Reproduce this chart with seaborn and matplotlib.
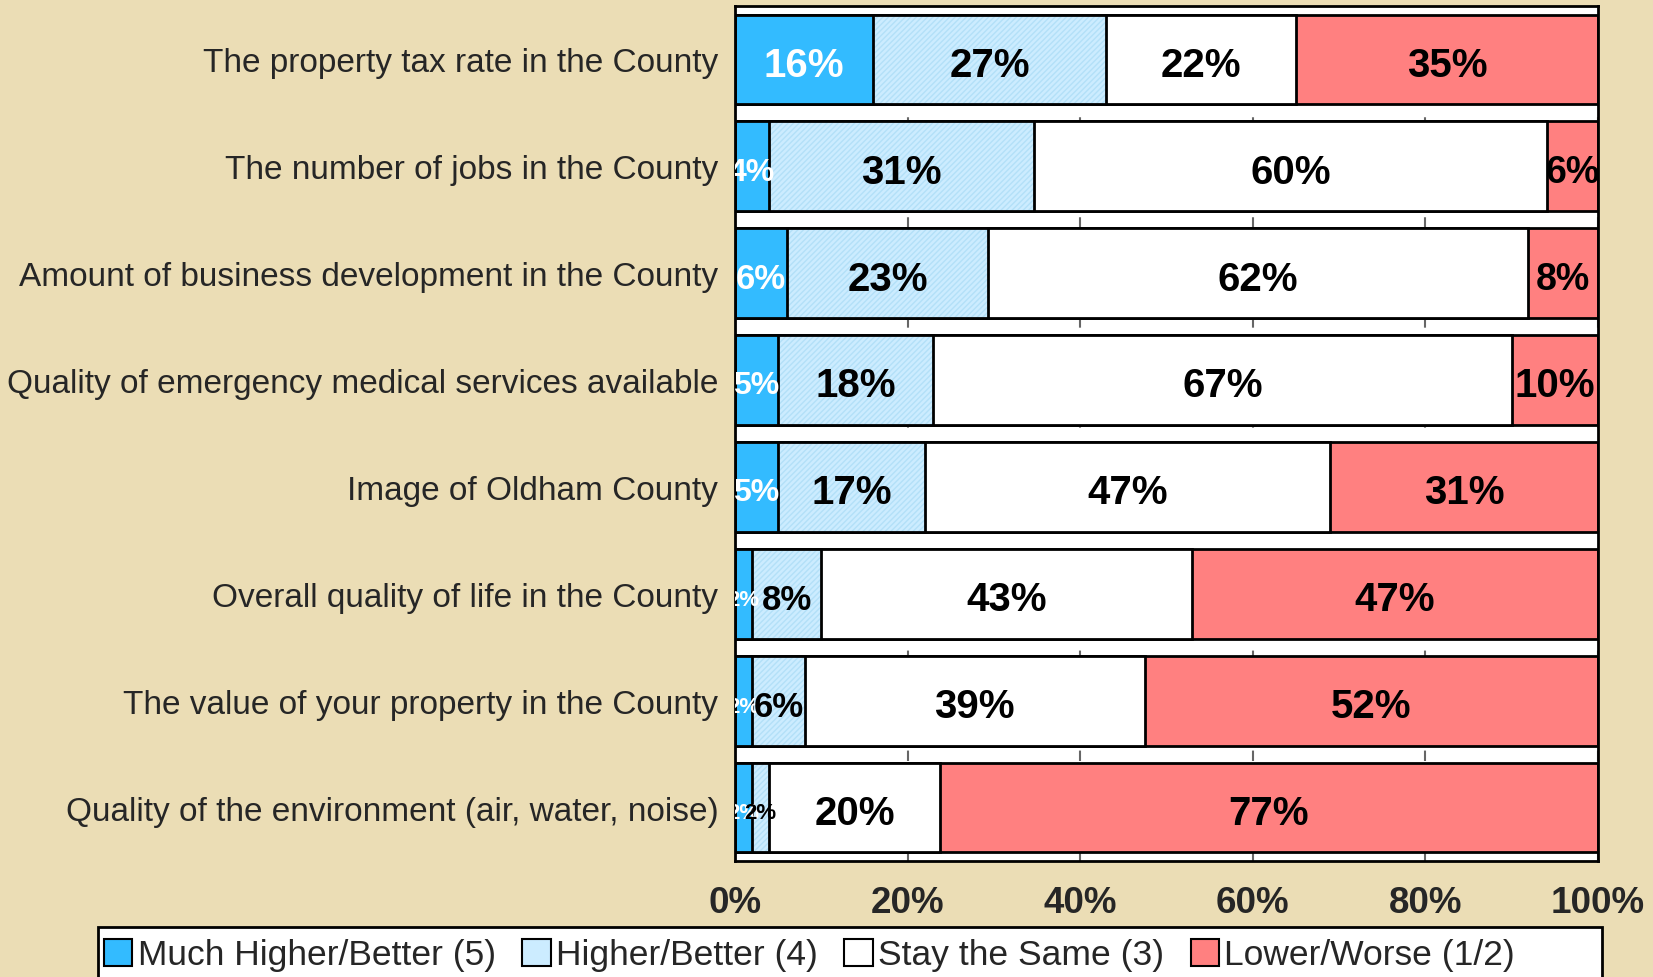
import pandas as pd
import seaborn as sns
import matplotlib.pyplot as plt
from matplotlib.patches import Patch, Rectangle

# survey items, top to bottom
items = [
    "The property tax rate in the County",
    "The number of jobs in the County",
    "Amount of business development in the County",
    "Quality of emergency medical services available",
    "Image of Oldham County",
    "Overall quality of life in the County",
    "The value of your property in the County",
    "Quality of the environment (air, water, noise)",
]
much_higher = [16, 4, 6, 5, 5, 2, 2, 2]
higher = [27, 31, 23, 18, 17, 8, 6, 2]
same = [22, 60, 62, 67, 47, 43, 39, 20]
lower = [35, 6, 8, 10, 31, 47, 52, 77]
series_names = ["Much Higher/Better (5)", "Higher/Better (4)", "Stay the Same (3)", "Lower/Worse (1/2)"]
x_ticks = [0, 20, 40, 60, 80, 100]
x_tick_labels = ["0%", "20%", "40%", "60%", "80%", "100%"]

colors = ["#33BBFF", "#CCECFF", "#FFFFFF", "#FF8080"]
label_colors = ["white", "black", "black", "black"]
bg = "#EBDDB5"

sns.set_style("white")
plt.rcParams["font.family"] = ["Liberation Sans", "DejaVu Sans"]

# 100% stacked: normalise each row to its total
df = pd.DataFrame({"item": items, "s0": much_higher, "s1": higher, "s2": same, "s3": lower})
cols = ["s0", "s1", "s2", "s3"]
tot = df[cols].sum(axis=1)
for c in cols:
    df["p" + c] = df[c] / tot * 100
df["c0"] = df["ps0"]
df["c1"] = df["c0"] + df["ps1"]
df["c2"] = df["c1"] + df["ps2"]
df["c3"] = df["c2"] + df["ps3"]

fig = plt.figure(figsize=(16.53, 9.78), dpi=100, facecolor=bg)
ax = fig.add_axes([0.4446, 0.1186, 0.5221, 0.8742])
ax.set_facecolor("white")

common = dict(y="item", orient="h", width=0.84, saturation=1, errorbar=None, ax=ax)
bar_kw = dict(edgecolor="black", linewidth=2, **common)
sns.barplot(data=df, x="c3", color=colors[3], **bar_kw)
sns.barplot(data=df, x="c2", color=colors[2], **bar_kw)
# light blue series: fill with a faint diagonal hatch, then a black outline
sns.barplot(data=df, x="c1", color=colors[1], edgecolor="#B3E0F8", linewidth=0,
            hatch="//////", **common)
sns.barplot(data=df, x="c1", color="black", fill=False, linewidth=2, **common)
sns.barplot(data=df, x="c0", color=colors[0], **bar_kw)


def label_size(v, k):
    if v >= 10:
        return 29
    if v >= 6:
        return 27 if k == 3 else 25
    if v >= 4:
        return 23
    return 16


for i, row in df.iterrows():
    start = 0
    for k, c in enumerate(cols):
        w = row["p" + c]
        ax.text(start + w / 2, i + 0.05, f"{row[c]}%", ha="center", va="center",
                fontsize=label_size(row[c], k), fontweight="bold", color=label_colors[k],
                clip_on=True, zorder=10)
        start += w

ax.set_xlim(0, 100)
ax.set_ylim(7.5, -0.5)
ax.set_xticks(x_ticks)
ax.set_xticklabels(x_tick_labels, fontsize=26.5, fontweight="bold")
ax.tick_params(axis="x", length=0, pad=17)
ax.tick_params(axis="y", length=0, pad=12, labelsize=24)
ax.set_xlabel("")
ax.set_ylabel("")
ax.set_axisbelow(True)
ax.xaxis.grid(True, color="#666666", linestyle=(0, (5, 11)), linewidth=1.5)
for s in ax.spines.values():
    s.set_visible(True)
    s.set_color("black")
    s.set_linewidth(2)

# legend box cut off by bottom edge
fig.patches.append(Rectangle((98 / 1653, -0.02), (1602 - 98) / 1653, 0.02 + 50 / 978,
                             transform=fig.transFigure, facecolor="white",
                             edgecolor="black", linewidth=2, zorder=1))
handles = [Patch(facecolor=colors[k], edgecolor="black", linewidth=1.5) for k in range(4)]
fig.legend(handles, series_names, loc="center left", bbox_to_anchor=(104 / 1653, 22 / 978),
           ncol=4, frameon=False, fontsize=25.5, handlelength=0.8, handleheight=0.8,
           handletextpad=0.15, columnspacing=0.75, borderaxespad=0, borderpad=0)

fig.savefig("out.png", dpi=100, facecolor=bg)
